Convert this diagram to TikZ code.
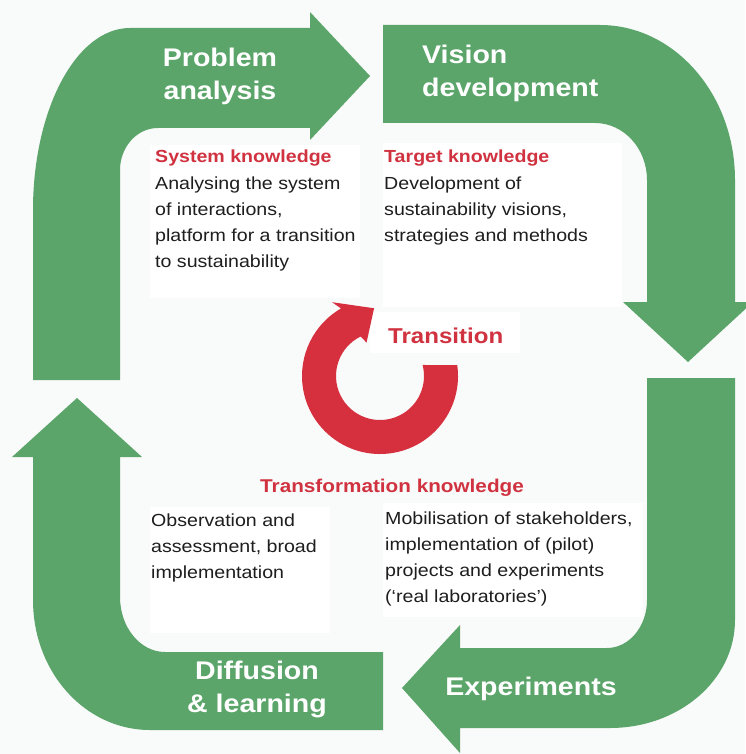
\documentclass[tikz,border=0pt]{standalone}
\usepackage{fontspec}
\setmainfont{Liberation Sans}[FakeStretch=1.12]
\definecolor{grn}{RGB}{91,165,106}
\definecolor{ringred}{RGB}{214,48,62}
\definecolor{redtxt}{RGB}{208,50,64}
\definecolor{bodytxt}{RGB}{30,30,30}
\definecolor{bgcol}{RGB}{249,250,250}
\tikzset{
  band/.style={fill=grn, draw=none},
  headlbl/.style={text=white, font=\bfseries\fontsize{25.5}{33}\selectfont, inner sep=0pt, align=center},
  redhead/.style={text=redtxt, font=\bfseries\fontsize{17.5}{26}\selectfont, inner sep=0pt, anchor=base west},
  bodytext/.style={text=bodytxt, font=\fontsize{17.5}{26}\selectfont, inner sep=0pt, align=left, anchor=base west},
  whitebox/.style={fill=white, draw=none}
}
\begin{document}
\begin{tikzpicture}[x=1pt, y=-1pt]
\useasboundingbox (0,0) rectangle (745,754);
\fill[bgcol] (0,0) rectangle (745,754);
% white text areas
\fill[whitebox] (150,145) rectangle (360,298);
\fill[whitebox] (383,143) rectangle (622,307);
\fill[whitebox] (370,312) rectangle (520,353);
\fill[whitebox] (150,507) rectangle (330,633);
\fill[whitebox] (383,503) rectangle (643,617);
% green arrows
\fill[band] (33,380) -- (33,210) .. controls (33,110) and (76,28) .. (130,28) -- (310,28) -- (310,12) -- (370,76) -- (310,140) -- (310,128) -- (158,128) .. controls (136,128) and (120,148) .. (120,170) -- (120,380) -- cycle;
\fill[band] (383,25) -- (600,25) .. controls (674.5,25) and (735,94.4) .. (735,180) -- (735,302) -- (753,302) -- (688,362) -- (623,302) -- (647,302) -- (647,180) .. controls (647,148.5) and (623.7,123) .. (595,123) -- (383,123) -- cycle;
\fill[band] (647,378) -- (735,378) -- (735,620) .. controls (735,680) and (679,728) .. (610,728) -- (460,728) -- (460,753) -- (402,688) -- (460,625) -- (460,648) -- (607,648) .. controls (629,648) and (647,626.5) .. (647,600) -- cycle;
\fill[band] (383,652) -- (383,730) -- (150,730) .. controls (85,730) and (33,672) .. (33,600) -- (33,457) -- (12,457) -- (77,398) -- (142,457) -- (120,457) -- (120,597) .. controls (120,627) and (140,652) .. (165,652) -- cycle;
% red circular arrow
\coordinate (rc) at (380,376);
\fill[ringred] ([shift={(rc)}]-8:78) arc[start angle=-8, end angle=240, radius=78]
  -- ([shift={(rc)}]237:88) -- ([shift={(rc)}]265:68) -- ([shift={(rc)}]248:36)
  -- ([shift={(rc)}]244:44) arc[start angle=244, end angle=-14.5, radius=44] -- cycle;
% green labels (base anchor = last line baseline)
\node[headlbl, anchor=base] (pa) at (220,100) {Problem\\analysis};
\node[headlbl, anchor=base west, align=left] (vd) at (422,97) {Vision\\development};
\node[headlbl, anchor=base] (ex) at (531,695) {Experiments};
\node[headlbl, anchor=base] (dl) at (257,712) {Diffusion\\\& learning};
% knowledge texts
\node[redhead] (sk) at (155,163) {System knowledge};
\node[bodytext] (skb) at (155,267) {Analysing the system\\of interactions,\\platform for a transition\\to sustainability};
\node[redhead] (tk) at (384,163) {Target knowledge};
\node[bodytext] (tkb) at (384,241) {Development of\\sustainability visions,\\strategies and methods};
\node[redhead, font=\bfseries\fontsize{21.5}{26}\selectfont] (tr) at (388,343) {Transition};
\node[redhead, font=\bfseries\fontsize{18.5}{26}\selectfont] (tfk) at (260,492) {Transformation knowledge};
\node[bodytext] (ob) at (151,578) {Observation and\\assessment, broad\\implementation};
\node[bodytext] (mo) at (385,602) {Mobilisation of stakeholders,\\implementation of (pilot)\\projects and experiments\\(‘real laboratories’)};
\end{tikzpicture}
\end{document}
